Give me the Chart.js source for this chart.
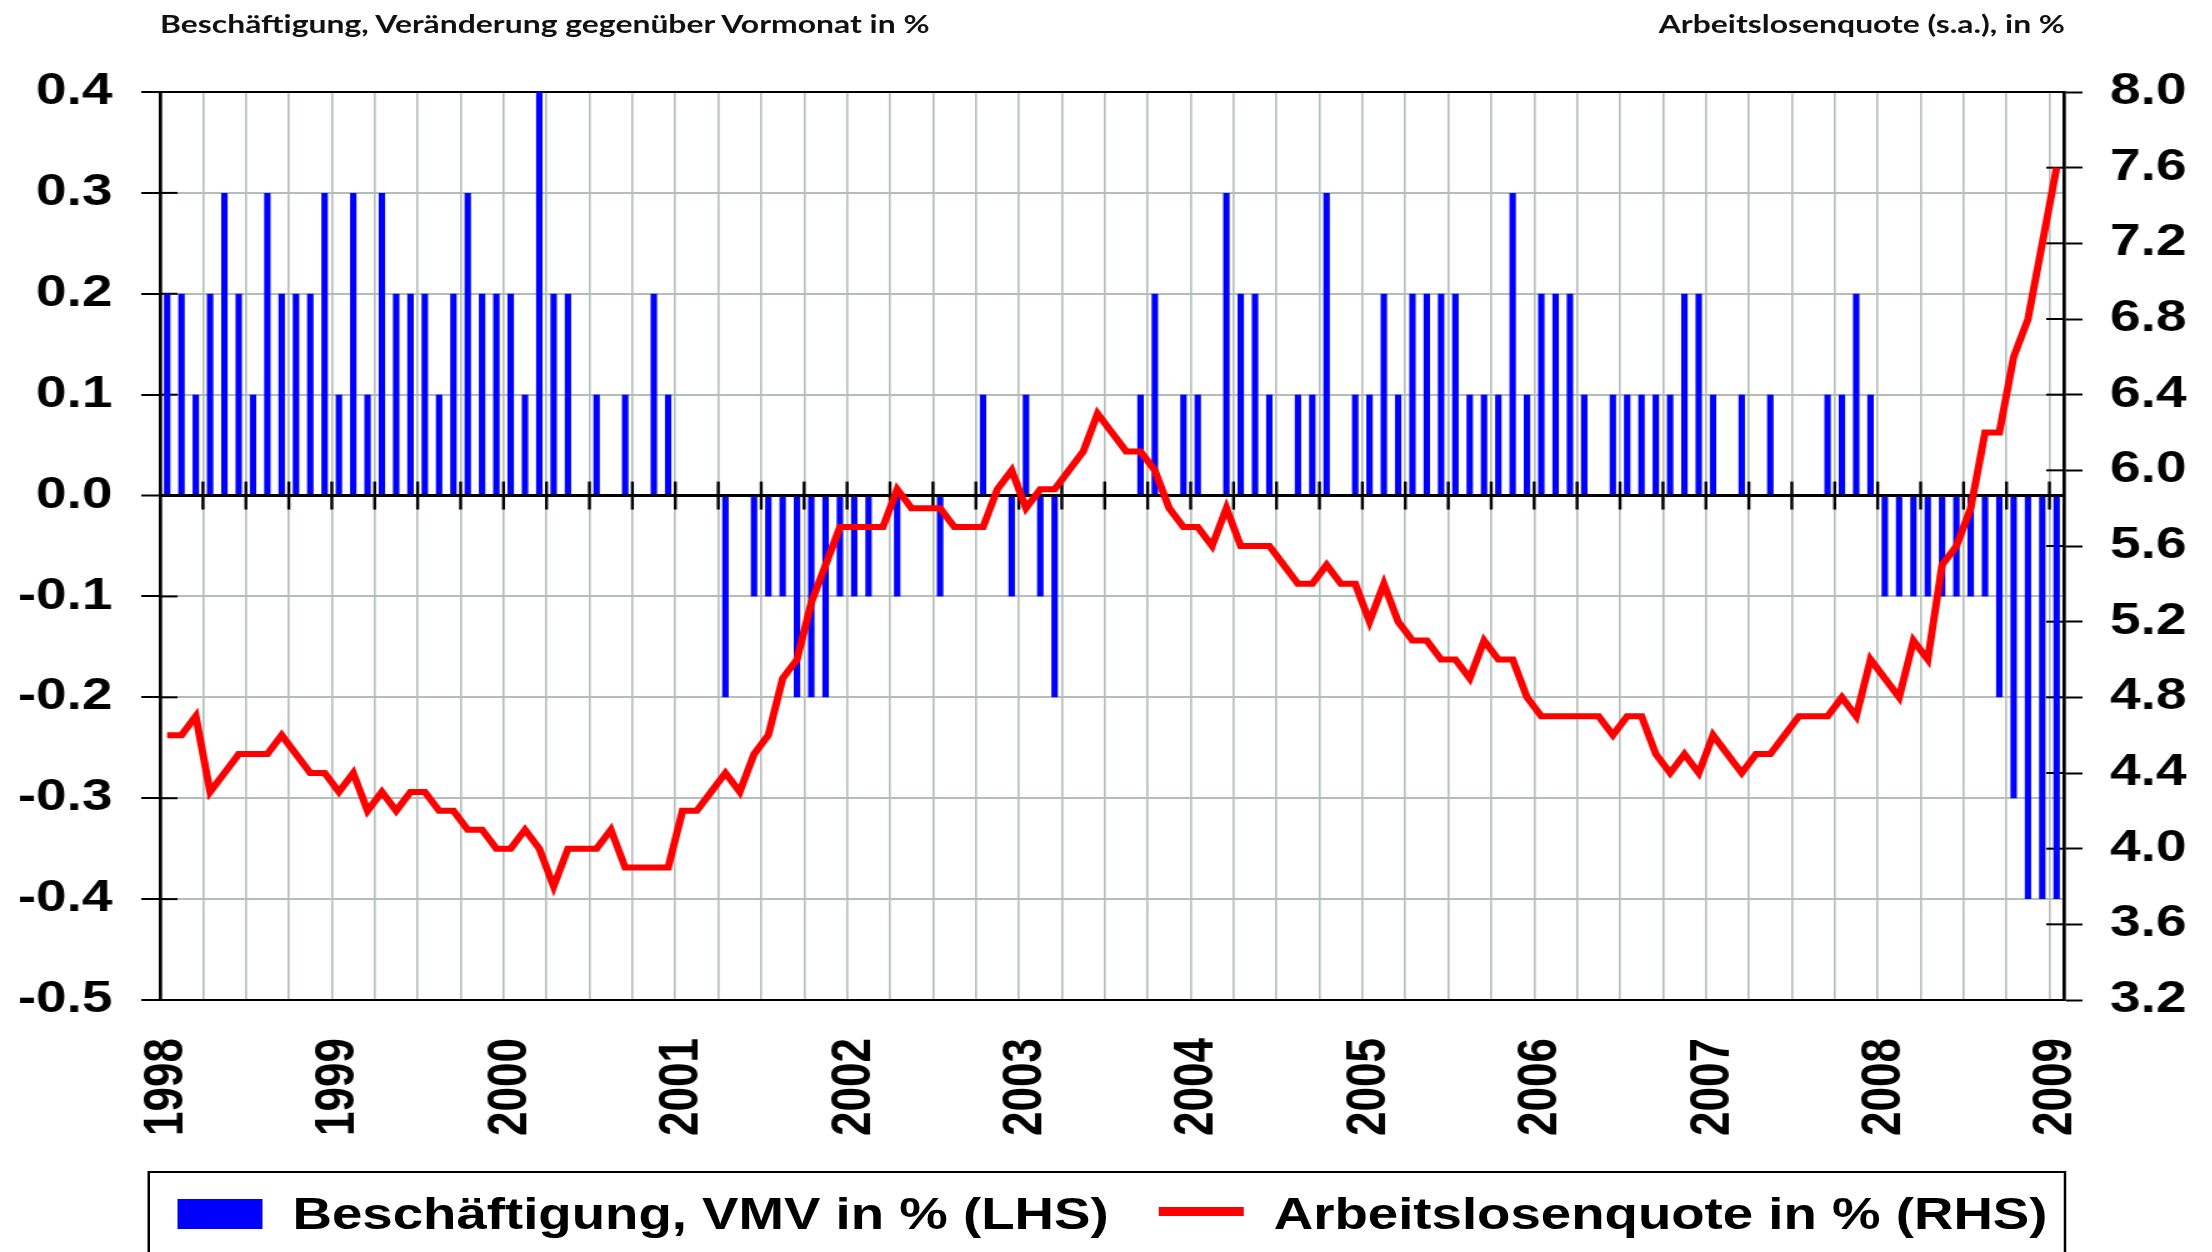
<!DOCTYPE html>
<html lang="de">
<head>
<meta charset="utf-8">
<title>Beschäftigung und Arbeitslosenquote</title>
<script src="https://cdn.jsdelivr.net/npm/chart.js@4.4.1/dist/chart.umd.min.js"></script>
<style>
  html, body { margin: 0; padding: 0; background: #fff; overflow: hidden; }
  /* the original picture is stretched sideways, so the whole page is drawn narrow and widened */
  #wrap { position: relative; width: 1770px; height: 1252px; transform: scaleX(1.25); transform-origin: 0 0; }
  .cap { position: absolute; top: 11px; font-family: Lato, sans-serif; font-weight: 700; font-size: 25.5px; line-height: 1; color: #111; white-space: nowrap; }
  #capL { left: 128px; }
  #capR { right: 118px; }
  #chart { position: absolute; left: 0; top: 0; }
  #legend { position: absolute; left: 118px; top: 1171px; width: 1535px; height: 130px; border: 2px solid #000; box-sizing: border-box; }
  .legTxt { position: absolute; top: 1192px; font-family: "Liberation Sans", Arial, sans-serif; font-weight: 700; font-size: 43.7px; line-height: 1; color: #000; white-space: nowrap; }
  #legBar { position: absolute; left: 142px; top: 1199px; width: 68px; height: 30px; background: #0000ff; }
  #legLine { position: absolute; left: 927px; top: 1207px; width: 68px; height: 9px; background: #ff0000; }
</style>
</head>
<body>
<div id="wrap">
  <div class="cap" id="capL">Beschäftigung, Veränderung gegenüber Vormonat in %</div>
  <div class="cap" id="capR">Arbeitslosenquote (s.a.), in %</div>
  <canvas id="chart" width="1770" height="1160"></canvas>
  <div id="legend"></div>
  <div id="legBar"></div>
  <div class="legTxt" style="left:234px">Beschäftigung, VMV in % (LHS)</div>
  <div id="legLine"></div>
  <div class="legTxt" style="left:1019px">Arbeitslosenquote in % (RHS)</div>
</div>
<script>
// ===== DATEN =====
const JAHRE = ['1998','1999','2000','2001','2002','2003','2004','2005','2006','2007','2008','2009'];
const MONATE = ['Jan','Feb','Mär','Apr','Mai','Jun','Jul','Aug','Sep','Okt','Nov','Dez'];

// Beschäftigung, Veränderung gegenüber Vormonat in % (LHS), Jan 1998 – Jan 2009
const beschaeftigung = [
  0.2, 0.2, 0.1, 0.2, 0.3, 0.2, 0.1, 0.3, 0.2, 0.2, 0.2, 0.3,       // 1998
  0.1, 0.3, 0.1, 0.3, 0.2, 0.2, 0.2, 0.1, 0.2, 0.3, 0.2, 0.2,       // 1999
  0.2, 0.1, 0.4, 0.2, 0.2, 0, 0.1, 0, 0.1, 0, 0.2, 0.1,             // 2000
  0, 0, 0, -0.2, 0, -0.1, -0.1, -0.1, -0.2, -0.2, -0.2, -0.1,       // 2001
  -0.1, -0.1, 0, -0.1, 0, 0, -0.1, 0, 0, 0.1, 0, -0.1,              // 2002
  0.1, -0.1, -0.2, 0, 0, 0, 0, 0, 0.1, 0.2, 0, 0.1,                 // 2003
  0.1, 0, 0.3, 0.2, 0.2, 0.1, 0, 0.1, 0.1, 0.3, 0, 0.1,             // 2004
  0.1, 0.2, 0.1, 0.2, 0.2, 0.2, 0.2, 0.1, 0.1, 0.1, 0.3, 0.1,       // 2005
  0.2, 0.2, 0.2, 0.1, 0, 0.1, 0.1, 0.1, 0.1, 0.1, 0.2, 0.2,         // 2006
  0.1, 0, 0.1, 0, 0.1, 0, 0, 0, 0.1, 0.1, 0.2, 0.1,                 // 2007
  -0.1, -0.1, -0.1, -0.1, -0.1, -0.1, -0.1, -0.1, -0.2, -0.3, -0.4, -0.4, // 2008
  -0.4                                                               // 2009
];

// Arbeitslosenquote (s.a.) in % (RHS)
const arbeitslosenquote = [
  4.6, 4.6, 4.7, 4.3, 4.4, 4.5, 4.5, 4.5, 4.6, 4.5, 4.4, 4.4,       // 1998
  4.3, 4.4, 4.2, 4.3, 4.2, 4.3, 4.3, 4.2, 4.2, 4.1, 4.1, 4.0,       // 1999
  4.0, 4.1, 4.0, 3.8, 4.0, 4.0, 4.0, 4.1, 3.9, 3.9, 3.9, 3.9,       // 2000
  4.2, 4.2, 4.3, 4.4, 4.3, 4.5, 4.6, 4.9, 5.0, 5.3, 5.5, 5.7,       // 2001
  5.7, 5.7, 5.7, 5.9, 5.8, 5.8, 5.8, 5.7, 5.7, 5.7, 5.9, 6.0,       // 2002
  5.8, 5.9, 5.9, 6.0, 6.1, 6.3, 6.2, 6.1, 6.1, 6.0, 5.8, 5.7,       // 2003
  5.7, 5.6, 5.8, 5.6, 5.6, 5.6, 5.5, 5.4, 5.4, 5.5, 5.4, 5.4,       // 2004
  5.2, 5.4, 5.2, 5.1, 5.1, 5.0, 5.0, 4.9, 5.1, 5.0, 5.0, 4.8,       // 2005
  4.7, 4.7, 4.7, 4.7, 4.7, 4.6, 4.7, 4.7, 4.5, 4.4, 4.5, 4.4,       // 2006
  4.6, 4.5, 4.4, 4.5, 4.5, 4.6, 4.7, 4.7, 4.7, 4.8, 4.7, 5.0,       // 2007
  4.9, 4.8, 5.1, 5.0, 5.5, 5.6, 5.8, 6.2, 6.2, 6.6, 6.8, 7.2,       // 2008
  7.6                                                                // 2009
];

// Monatskategorien Jan 1998 .. Jan 2009
const kategorien = [];
JAHRE.forEach(j => MONATE.forEach(m => { if (kategorien.length < beschaeftigung.length) kategorien.push(m + ' ' + j); }));

const GRAU = '#b3beba';
const SCHRIFT = { family: '"Liberation Sans", Arial, sans-serif', size: 44, weight: 'bold' };
const fmt = v => (Math.abs(v) < 1e-9 ? 0 : v).toFixed(1);

// kleine Striche nach innen an beiden Achsen und auf der Nulllinie
const innenTicks = {
  id: 'innenTicks',
  beforeDatasetsDraw(chart) {
    const { ctx, chartArea, scales } = chart;
    const { x, y, y2 } = scales;
    ctx.save();
    ctx.strokeStyle = '#000';
    ctx.lineWidth = 2;
    y.ticks.forEach(t => {
      const py = y.getPixelForValue(t.value);
      ctx.beginPath(); ctx.moveTo(chartArea.left, py); ctx.lineTo(chartArea.left + 14, py); ctx.stroke();
    });
    y2.ticks.forEach(t => {
      const py = y2.getPixelForValue(t.value);
      ctx.beginPath(); ctx.moveTo(chartArea.right - 14, py); ctx.lineTo(chartArea.right, py); ctx.stroke();
    });
    const py0 = y.getPixelForValue(0);
    ctx.lineWidth = 2.4;
    for (let i = 3; i < kategorien.length; i += 3) {
      const px = (x.getPixelForValue(i - 1) + x.getPixelForValue(i)) / 2;
      ctx.beginPath(); ctx.moveTo(px, py0 - 14); ctx.lineTo(px, py0 + 14); ctx.stroke();
    }
    ctx.restore();
  }
};

new Chart(document.getElementById('chart').getContext('2d'), {
  type: 'bar',
  data: {
    labels: kategorien,
    datasets: [
      {
        type: 'line',
        label: 'Arbeitslosenquote in % (RHS)',
        data: arbeitslosenquote,
        yAxisID: 'y2',
        borderColor: '#ff0000',
        borderWidth: 6,
        pointRadius: 0,
        tension: 0,
        order: 0
      },
      {
        type: 'bar',
        label: 'Beschäftigung, VMV in % (LHS)',
        data: beschaeftigung,
        yAxisID: 'y',
        backgroundColor: '#0000ff',
        barPercentage: 0.45,
        categoryPercentage: 1,
        order: 1
      }
    ]
  },
  options: {
    responsive: false,
    animation: false,
    devicePixelRatio: 1,
    layout: { padding: { top: 92, left: 0, right: 0, bottom: 0 } },
    plugins: { legend: { display: false }, tooltip: { enabled: false } },
    scales: {
      x: {
        offset: true,
        grid: {
          offset: true,
          drawTicks: false,
          lineWidth: 1.6,
          color: c => (c.index > 0 && c.index % 3 === 0 && c.index < kategorien.length) ? GRAU : 'rgba(0,0,0,0)'
        },
        border: { color: '#000', width: 2 },
        ticks: {
          autoSkip: false,
          minRotation: 90,
          maxRotation: 90,
          padding: 38,
          color: '#000',
          font: SCHRIFT,
          callback: (v, i) => i % 12 === 0 ? JAHRE[i / 12] : ''
        },
        afterFit: s => { s.height = 160; }
      },
      y: {
        position: 'left',
        min: -0.5,
        max: 0.4,
        ticks: { stepSize: 0.1, padding: 23, color: '#000', font: SCHRIFT, callback: v => fmt(v) },
        grid: {
          color: c => {
            const v = c.tick ? c.tick.value : 1;
            return (Math.abs(v) < 1e-9 || v > 0.39 || v < -0.49) ? '#000' : GRAU;
          },
          lineWidth: c => (c.tick && Math.abs(c.tick.value) < 1e-9) ? 3 : 2,
          tickColor: '#000',
          tickLength: 15,
          tickWidth: 2
        },
        border: { color: '#000', width: 2.7 },
        afterFit: s => { s.width = 128; }
      },
      y2: {
        position: 'right',
        min: 3.2,
        max: 8.0,
        ticks: { stepSize: 0.4, padding: 22, color: '#000', font: SCHRIFT, callback: v => fmt(v) },
        grid: { drawOnChartArea: false, tickColor: '#000', tickLength: 15, tickWidth: 2 },
        border: { color: '#000', width: 2.7 },
        afterFit: s => { s.width = 119; }
      }
    }
  },
  plugins: [innenTicks]
});
</script>
</body>
</html>
